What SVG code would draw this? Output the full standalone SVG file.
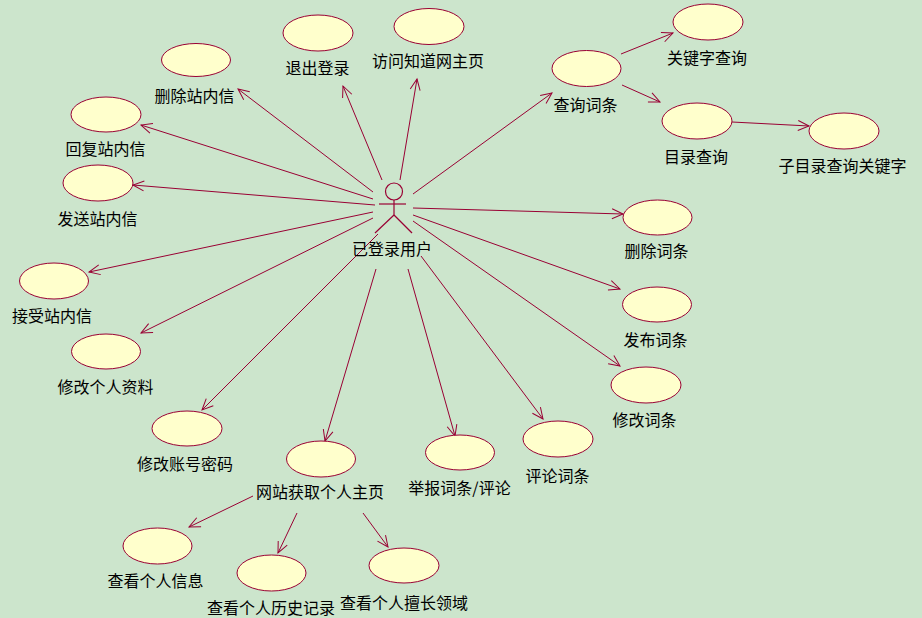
<svg xmlns="http://www.w3.org/2000/svg" width="922" height="618" viewBox="0 0 922 618">
  <defs>
    <marker id="arrow" markerUnits="userSpaceOnUse" markerWidth="14" markerHeight="14" viewBox="-12 -7 14 14" refX="0" refY="0" orient="auto">
      <path d="M-11,-5 L0,0 L-11,5" fill="none" stroke="#990033" stroke-width="1"/>
    </marker>
  </defs>
  <style>
    .uc ellipse { fill: #FFFFCC; stroke: #990033; stroke-width: 1; }
    text { font-family: "Noto Sans CJK SC", "Noto Sans", sans-serif; font-size: 16px; fill: #000; text-anchor: middle; }
    .edges line { stroke: #990033; stroke-width: 1; marker-end: url(#arrow); }
    .actor circle, .actor line { fill: none; stroke: #990033; stroke-width: 1.2; }
  </style>

  <rect width="922" height="618" fill="#CCE5CC"/>

  <!-- connectors -->
  <g class="edges">
    <line x1="373" y1="192" x2="238" y2="89"/>
    <line x1="382" y1="180" x2="343" y2="86"/>
    <line x1="400" y1="180" x2="417" y2="79"/>
    <line x1="413" y1="194" x2="552" y2="93"/>
    <line x1="373" y1="199" x2="141" y2="125"/>
    <line x1="375" y1="205" x2="133" y2="185"/>
    <line x1="373" y1="212" x2="89" y2="272"/>
    <line x1="373" y1="218" x2="141" y2="333"/>
    <line x1="378" y1="234" x2="202" y2="410"/>
    <line x1="376" y1="269" x2="325" y2="441"/>
    <line x1="408" y1="269" x2="455" y2="436"/>
    <line x1="421" y1="256" x2="543" y2="419"/>
    <line x1="413" y1="221" x2="620" y2="366"/>
    <line x1="413" y1="215" x2="620" y2="289"/>
    <line x1="413" y1="208" x2="623" y2="214"/>
    <line x1="621" y1="54" x2="673" y2="33"/>
    <line x1="622" y1="85" x2="660" y2="102"/>
    <line x1="732" y1="122" x2="809" y2="126"/>
    <line x1="253" y1="496" x2="189" y2="527"/>
    <line x1="297" y1="513" x2="278" y2="553"/>
    <line x1="363" y1="513" x2="388" y2="547"/>
  </g>

  <!-- actor -->
  <g id="actor" class="actor">
    <circle cx="394" cy="191.5" r="8.5"/>
    <line x1="394" y1="200" x2="394" y2="215"/>
    <line x1="379" y1="204" x2="406" y2="204"/>
    <line x1="394" y1="215" x2="375" y2="233"/>
    <line x1="394" y1="215" x2="412" y2="233"/>
    <text x="392" y="255" stroke="none" fill="#000">已登录用户</text>
  </g>

  <!-- use cases -->
  <g id="uc-delete-msg" class="uc"><ellipse cx="196" cy="60" rx="34.5" ry="16.5"/><text x="194.5" y="102">删除站内信</text></g>
  <g id="uc-logout" class="uc"><ellipse cx="318" cy="33" rx="35" ry="18"/><text x="317.5" y="74">退出登录</text></g>
  <g id="uc-home" class="uc"><ellipse cx="429" cy="26.5" rx="35" ry="18"/><text x="428" y="67">访问知道网主页</text></g>
  <g id="uc-query" class="uc"><ellipse cx="586.5" cy="68.5" rx="34.5" ry="18"/><text x="585.5" y="111">查询词条</text></g>
  <g id="uc-keyword" class="uc"><ellipse cx="708" cy="22" rx="35" ry="18"/><text x="707" y="64">关键字查询</text></g>
  <g id="uc-catalog" class="uc"><ellipse cx="697" cy="121" rx="35" ry="18"/><text x="696" y="163">目录查询</text></g>
  <g id="uc-subcatalog" class="uc"><ellipse cx="844" cy="131" rx="35" ry="18"/><text x="842.5" y="172">子目录查询关键字</text></g>
  <g id="uc-reply-msg" class="uc"><ellipse cx="106" cy="114.5" rx="35" ry="17.5"/><text x="105.5" y="155">回复站内信</text></g>
  <g id="uc-send-msg" class="uc"><ellipse cx="98" cy="183" rx="35" ry="18"/><text x="97.5" y="225">发送站内信</text></g>
  <g id="uc-delete-entry" class="uc"><ellipse cx="657.5" cy="217.5" rx="34.5" ry="17.5"/><text x="656.5" y="257">删除词条</text></g>
  <g id="uc-receive-msg" class="uc"><ellipse cx="54" cy="281" rx="34.5" ry="18"/><text x="52" y="322">接受站内信</text></g>
  <g id="uc-publish-entry" class="uc"><ellipse cx="657" cy="304.5" rx="34.5" ry="17.5"/><text x="655.5" y="346">发布词条</text></g>
  <g id="uc-edit-profile" class="uc"><ellipse cx="106" cy="351.5" rx="34.5" ry="17.5"/><text x="105.5" y="393">修改个人资料</text></g>
  <g id="uc-edit-entry" class="uc"><ellipse cx="646" cy="385" rx="35" ry="18"/><text x="644.5" y="426">修改词条</text></g>
  <g id="uc-password" class="uc"><ellipse cx="187" cy="428.5" rx="35" ry="17.5"/><text x="185" y="470">修改账号密码</text></g>
  <g id="uc-homepage" class="uc"><ellipse cx="321" cy="459" rx="34.5" ry="18"/><text x="320" y="498">网站获取个人主页</text></g>
  <g id="uc-report" class="uc"><ellipse cx="460" cy="452.5" rx="34.5" ry="17.5"/><text x="459.5" y="494">举报词条/评论</text></g>
  <g id="uc-comment" class="uc"><ellipse cx="558" cy="439" rx="35" ry="18"/><text x="557.5" y="482">评论词条</text></g>
  <g id="uc-info" class="uc"><ellipse cx="157.5" cy="546" rx="34.5" ry="18"/><text x="155.5" y="587">查看个人信息</text></g>
  <g id="uc-history" class="uc"><ellipse cx="271.5" cy="573" rx="34.5" ry="18"/><text x="271" y="614">查看个人历史记录</text></g>
  <g id="uc-expertise" class="uc"><ellipse cx="404" cy="565.5" rx="35" ry="17.5"/><text x="404" y="609">查看个人擅长领域</text></g>
</svg>
